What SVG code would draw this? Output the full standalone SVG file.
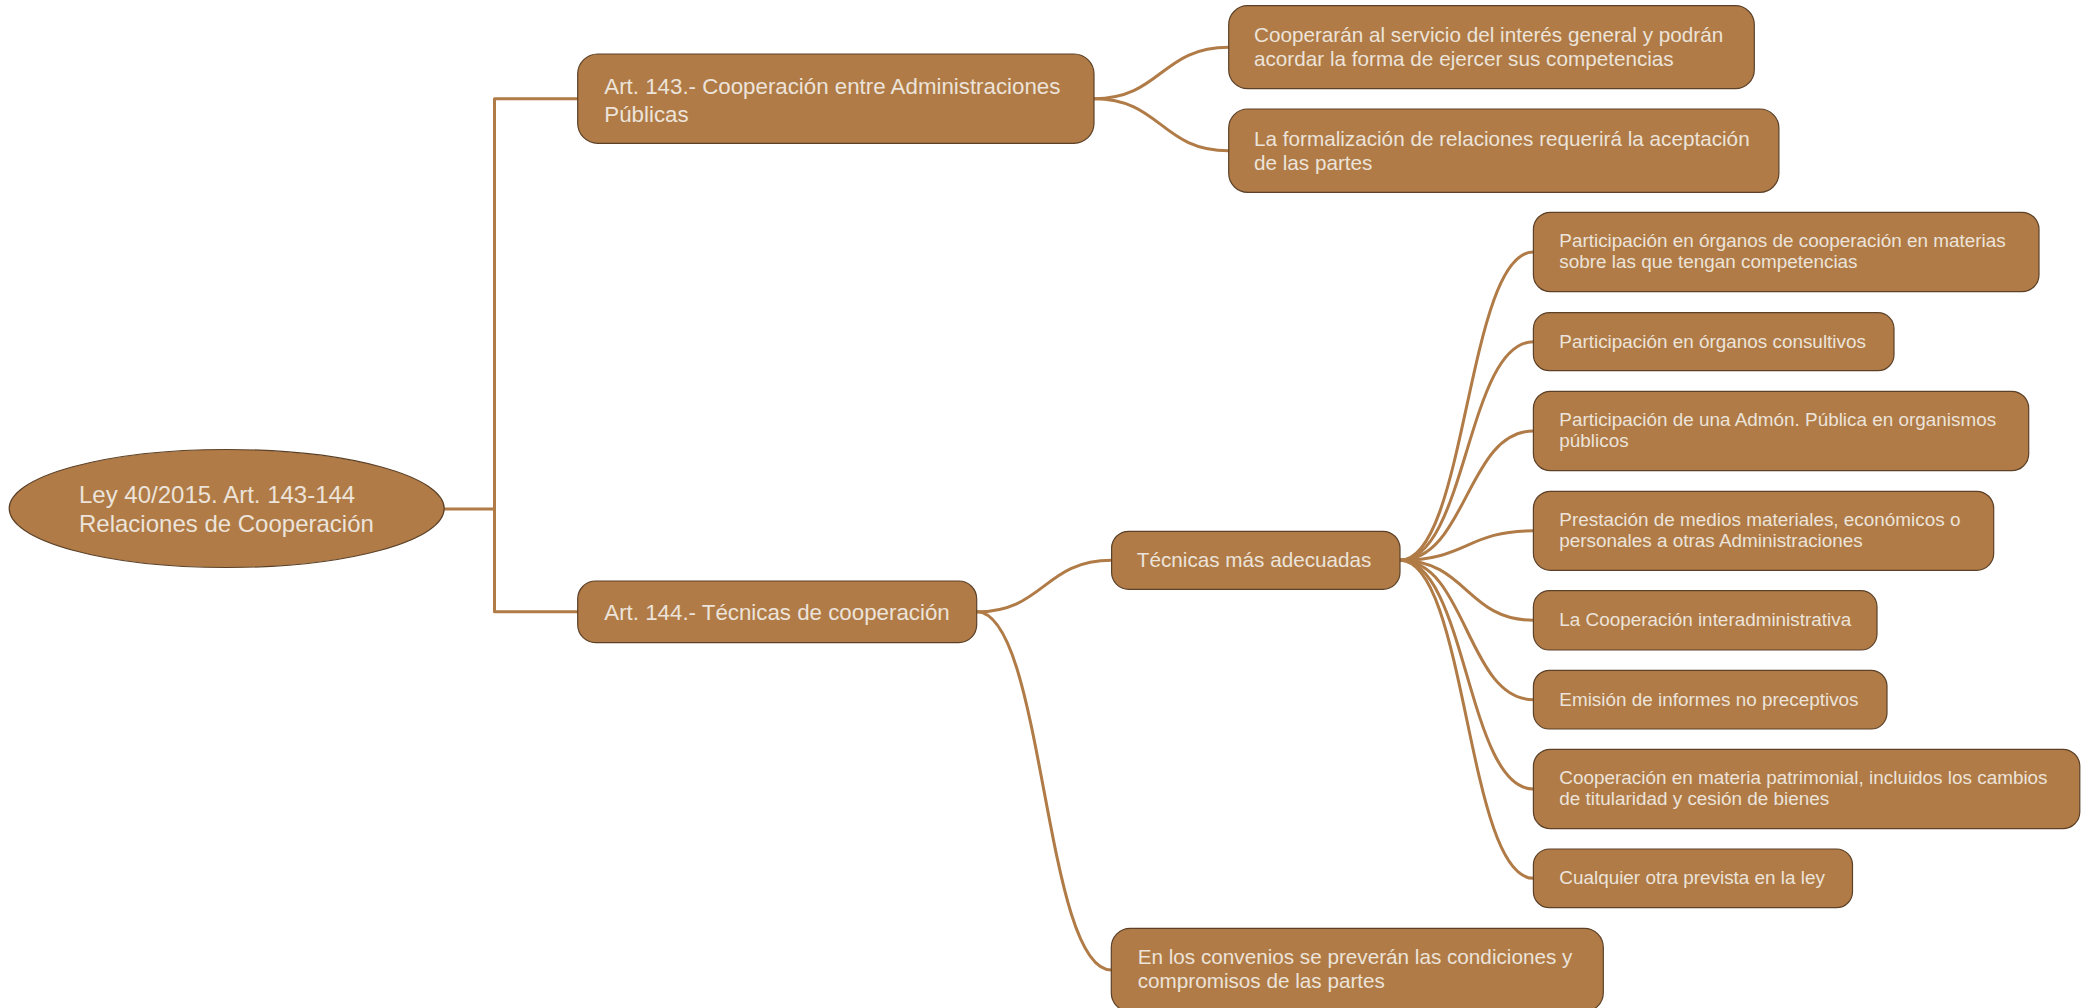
<svg xmlns="http://www.w3.org/2000/svg" width="2089" height="1008" viewBox="0 0 2089 1008">
<style>
.node{fill:#b07b46;stroke:#5c4128;stroke-width:1.2}
.t{font-family:"Liberation Sans",Arial,sans-serif;fill:#ece3da}
.t0{font-size:24px}
.t1{font-size:22.3px}
.t2{font-size:20.7px}
.t3{font-size:18.9px}
.c{fill:none;stroke:#b07b46;stroke-width:3;stroke-linecap:round}
</style>
<rect width="2089" height="1008" fill="#ffffff"/>
<g id="connectors">
<path class="c" d="M444,509 H494.5 M494.5,98.7 V611.8 M494.5,98.7 H578 M494.5,611.8 H578" stroke-linecap="butt" stroke-width="3.2"/>
<path class="c" d="M1094,98.7 C1161,98.7 1161,47.2 1228.7,47.2"/>
<path class="c" d="M1094,98.7 C1161,98.7 1161,150.7 1228.7,150.7"/>
<path class="c" d="M976.7,611.8 C1044,611.8 1044,560.3 1111.6,560.3"/>
<path class="c" d="M976.7,611.8 C1044,611.8 1044,970 1111.3,970"/>
<path class="c" d="M1400,560.3 C1466.7,560.3 1466.7,252 1533.4,252"/>
<path class="c" d="M1400,560.3 C1466.7,560.3 1466.7,341.7 1533.4,341.7"/>
<path class="c" d="M1400,560.3 C1466.7,560.3 1466.7,431 1533.4,431"/>
<path class="c" d="M1400,560.3 C1466.7,560.3 1466.7,530.8 1533.4,530.8"/>
<path class="c" d="M1400,560.3 C1466.7,560.3 1466.7,620.3 1533.4,620.3"/>
<path class="c" d="M1400,560.3 C1466.7,560.3 1466.7,699.7 1533.4,699.7"/>
<path class="c" d="M1400,560.3 C1466.7,560.3 1466.7,789 1533.4,789"/>
<path class="c" d="M1400,560.3 C1466.7,560.3 1466.7,878.3 1533.4,878.3"/>
</g>
<g id="root">
<ellipse class="node" cx="226.7" cy="508.5" rx="217.5" ry="59"/>
<text class="t t0" x="79" y="503.3">Ley 40/2015. Art. 143-144</text>
<text class="t t0" x="79" y="532">Relaciones de Cooperación</text>
</g>
<g id="art143">
<rect class="node" x="577.7" y="54" width="516.3" height="89.3" rx="20"/>
<text class="t t1" x="604.3" y="94.3">Art. 143.- Cooperación entre Administraciones</text>
<text class="t t1" x="604.3" y="121.7">Públicas</text>
</g>
<g id="art144">
<rect class="node" x="577.7" y="581" width="399" height="61.7" rx="18"/>
<text class="t t1" x="604.3" y="619.8">Art. 144.- Técnicas de cooperación</text>
</g>
<g id="cooperaran">
<rect class="node" x="1228.7" y="5.7" width="525.6" height="83" rx="19"/>
<text class="t t2" x="1254" y="42.3">Cooperarán al servicio del interés general y podrán</text>
<text class="t t2" x="1254" y="66.3">acordar la forma de ejercer sus competencias</text>
</g>
<g id="formalizacion">
<rect class="node" x="1228.7" y="109" width="550.2" height="83.3" rx="19"/>
<text class="t t2" x="1254" y="145.5">La formalización de relaciones requerirá la aceptación</text>
<text class="t t2" x="1254" y="169.5">de las partes</text>
</g>
<g id="tecnicas">
<rect class="node" x="1111.6" y="531.3" width="288.4" height="58" rx="17"/>
<text class="t t2" x="1136.8" y="567.3">Técnicas más adecuadas</text>
</g>
<g id="convenios">
<rect class="node" x="1111.3" y="928.3" width="492" height="83.4" rx="19"/>
<text class="t t2" x="1137.7" y="964.3">En los convenios se preverán las condiciones y</text>
<text class="t t2" x="1137.7" y="988.3">compromisos de las partes</text>
</g>
<g id="p1">
<rect class="node" x="1533.4" y="212.3" width="505.6" height="79.4" rx="17"/>
<text class="t t3" x="1559.3" y="247.3">Participación en órganos de cooperación en materias</text>
<text class="t t3" x="1559.3" y="268.3">sobre las que tengan competencias</text>
</g>
<g id="p2">
<rect class="node" x="1533.4" y="312.7" width="360.6" height="58" rx="16"/>
<text class="t t3" x="1559.3" y="347.7">Participación en órganos consultivos</text>
</g>
<g id="p3">
<rect class="node" x="1533.4" y="391.3" width="495.3" height="79.4" rx="17"/>
<text class="t t3" x="1559.3" y="426.3">Participación de una Admón. Pública en organismos</text>
<text class="t t3" x="1559.3" y="447.3">públicos</text>
</g>
<g id="p4">
<rect class="node" x="1533.4" y="491.3" width="460.3" height="79" rx="17"/>
<text class="t t3" x="1559.3" y="526.1">Prestación de medios materiales, económicos o</text>
<text class="t t3" x="1559.3" y="547.1">personales a otras Administraciones</text>
</g>
<g id="p5">
<rect class="node" x="1533.4" y="590.7" width="343.6" height="59.3" rx="16"/>
<text class="t t3" x="1559.3" y="626.3">La Cooperación interadministrativa</text>
</g>
<g id="p6">
<rect class="node" x="1533.4" y="670.3" width="353.6" height="58.7" rx="16"/>
<text class="t t3" x="1559.3" y="705.7">Emisión de informes no preceptivos</text>
</g>
<g id="p7">
<rect class="node" x="1533.4" y="749.3" width="546.4" height="79.4" rx="17"/>
<text class="t t3" x="1559.3" y="784.3">Cooperación en materia patrimonial, incluidos los cambios</text>
<text class="t t3" x="1559.3" y="805.3">de titularidad y cesión de bienes</text>
</g>
<g id="p8">
<rect class="node" x="1533.4" y="849" width="319.1" height="58.7" rx="16"/>
<text class="t t3" x="1559.3" y="884.3">Cualquier otra prevista en la ley</text>
</g>
</svg>
